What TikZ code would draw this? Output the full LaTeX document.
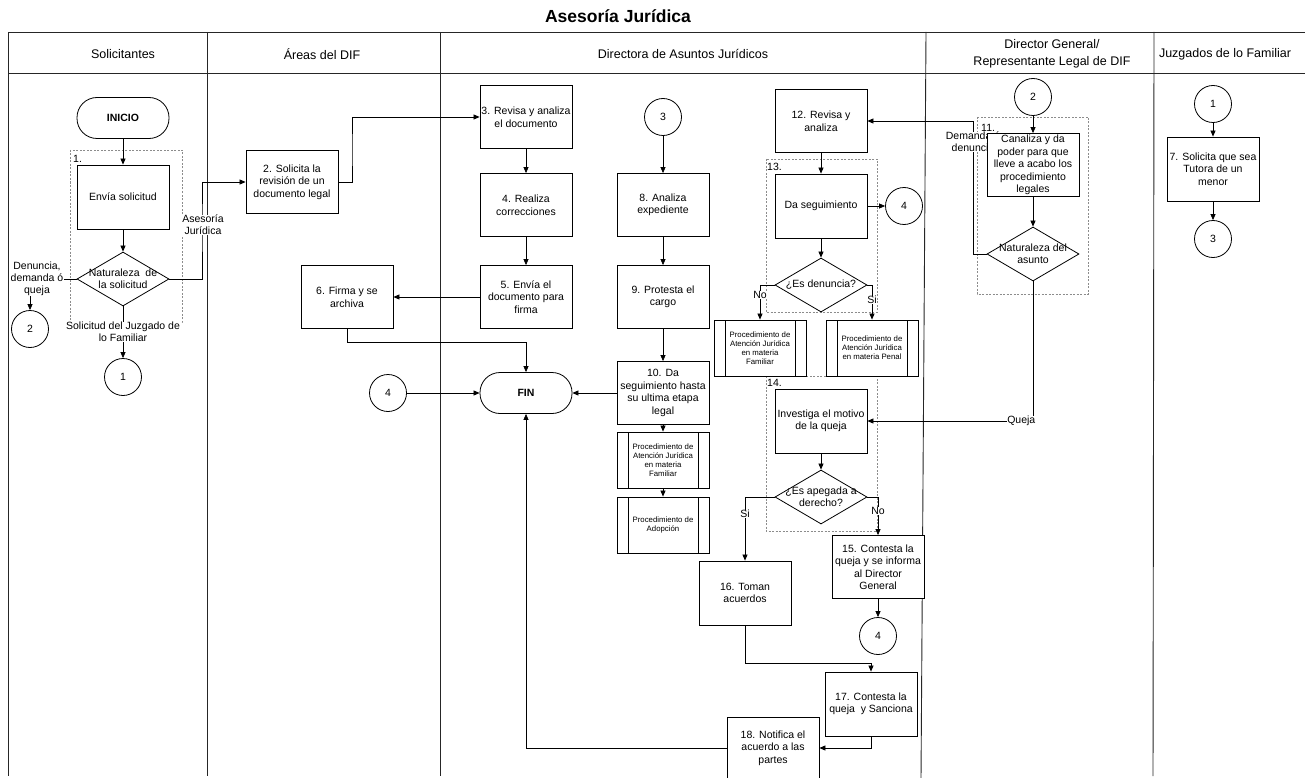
\documentclass[tikz,border=0pt]{standalone}
\usepackage{fontspec}
\setmainfont{Liberation Sans}
\usetikzlibrary{arrows.meta,shapes.geometric}

\begin{document}
\begin{tikzpicture}[x=1pt,y=-1pt,
        lane/.style={line width=0.9pt,draw=black!85},
        head/.style={font=\fontsize{12.5}{17}\selectfont,align=center},
        box/.style={draw,fill=white,line width=0.8pt,minimum width=92pt,minimum height=63pt,inner sep=1pt,align=center,font=\fontsize{10.5}{12.5}\selectfont},
        sub/.style={box,minimum height=56pt,font=\fontsize{7.8}{9}\selectfont,
            path picture={\draw[line width=0.8pt] ([xshift=11pt]path picture bounding box.north west) -- ([xshift=11pt]path picture bounding box.south west)
                ([xshift=-11pt]path picture bounding box.north east) -- ([xshift=-11pt]path picture bounding box.south east);}},
        term/.style={draw,fill=white,line width=0.8pt,rounded corners=20pt,minimum width=92pt,minimum height=41pt,font=\bfseries\fontsize{10.5}{12}\selectfont},
        decis/.style={diamond,draw,fill=white,line width=0.8pt,minimum width=92pt,minimum height=54pt,inner sep=0pt},
        dtext/.style={align=center,inner sep=0pt,font=\fontsize{10.5}{12.3}\selectfont},
        conn/.style={circle,draw,fill=white,line width=0.8pt,minimum size=37pt,inner sep=0pt,font=\fontsize{10.5}{12}\selectfont},
        grp/.style={draw=black!45,line width=0.5pt,dash pattern=on 2pt off 1.5pt},
        num/.style={anchor=west,inner sep=0pt,font=\fontsize{10.5}{12}\selectfont},
        lbl/.style={fill=white,inner sep=0.5pt,align=center,font=\fontsize{10.5}{12}\selectfont},
        arr/.style={line width=0.7pt,-{Triangle[length=6pt,width=5pt]}}]
        \useasboundingbox (0,0) rectangle (1305,778);
        \node[font=\bfseries\fontsize{17.5}{20}\selectfont] (title) at (618,16) {Asesoría Jurídica};
        \draw[lane] (8,32) -- (1305,32);
        \draw[lane] (8,73) -- (1305,73);
        \draw[lane] (8,32) -- (8,776);
        \draw[lane] (207,32) -- (207,776);
        \draw[lane] (440,32) -- (440,776);
        \draw[lane] (926,32) -- (921,778);
        \draw[lane] (1154,32) -- (1153,776);
        \node[head] (hSol) at (123,54) {Solicitantes};
        \node[head] (hAre) at (322,54) {Áreas del DIF};
        \node[head] (hDir) at (683,54) {Directora de Asuntos Jurídicos};
        \node[head] (hGen) at (1052,54) {Director General/\\Representante Legal de DIF};
        \node[head] (hJuz) at (1225,54) {Juzgados de lo Familiar};
        \draw[grp] (70,150) rectangle (182,322);
        \draw[grp] (766,159) rectangle (877,312);
        \draw[grp] (766,376) rectangle (877,531);
        \draw[grp] (977,117) rectangle (1088,294);
        \node[term] (ini) at (123,118) {INICIO};
        \node[num] (n1) at (73,159) {1.};
        \node[box,minimum height=64pt] (b1) at (123,197) {Envía solicitud};
        \node[decis,label={[dtext]center:{Naturaleza\ \ de\\la solicitud}}] (d1) at (123,279) {};
        \node[conn] (c2a) at (30,329) {2};
        \node[conn] (c1a) at (123,377) {1};
        \node[box] (b2) at (292,182) {2. Solicita la\\revisión de un\\documento legal};
        \node[box] (b6) at (347,297) {6. Firma y se\\archiva};
        \node[conn] (c4a) at (388,393) {4};
        \node[box] (b3) at (526,117) {3. Revisa y analiza\\el documento};
        \node[box] (b4) at (526,205) {4. Realiza\\correcciones};
        \node[box] (b5) at (526,297) {5. Envía el\\documento para\\firma};
        \node[term] (fin) at (526,393) {FIN};
        \node[conn] (c3a) at (663,117) {3};
        \node[box] (b8) at (663,205) {8. Analiza\\expediente};
        \node[box] (b9) at (663,297) {9. Protesta el\\cargo};
        \node[box] (b10) at (663,393) {10. Da\\seguimiento hasta\\su ultima etapa\\legal};
        \node[sub] (p1) at (663,460) {Procedimiento de\\Atención Jurídica\\en materia\\Familiar};
        \node[sub] (p2) at (663,525) {Procedimiento de\\Adopción};
        \node[box] (b12) at (821,121) {12. Revisa y\\analiza};
        \node[num] (n13) at (767,167) {13.};
        \node[box,minimum height=64pt] (b13) at (821,206) {Da seguimiento};
        \node[conn] (c4b) at (904,206) {4};
        \node[decis,label={[dtext]center:{¿Es denuncia?}}] (d13) at (821,285) {};
        \node[sub] (pF) at (760,348) {Procedimiento de\\Atención Jurídica\\en materia\\Familiar};
        \node[sub] (pP) at (872,348) {Procedimiento de\\Atención Jurídica\\en materia Penal};
        \node[num] (n14) at (767,383) {14.};
        \node[box,minimum height=64pt] (b14) at (821,421) {Investiga el motivo\\de la queja};
        \node[decis,label={[dtext]center:{¿Es apegada a\\derecho?}}] (d14) at (821,497) {};
        \node[box] (b15) at (878,567) {15. Contesta la\\queja y se informa\\al Director\\General};
        \node[conn] (c4c) at (878,636) {4};
        \node[box,minimum height=64pt] (b16) at (745,593) {16. Toman\\acuerdos};
        \node[box,minimum height=64pt] (b17) at (871,704) {17. Contesta la\\queja\ \ y Sanciona};
        \node[box,minimum height=62pt] (b18) at (773,748) {18. Notifica el\\acuerdo a las\\partes};
        \node[conn] (c2b) at (1033,97) {2};
        \node[decis,label={[dtext]center:{Naturaleza del\\asunto}}] (d11) at (1033,254) {};
        \node[conn] (c1b) at (1213,104) {1};
        \node[box,minimum height=64pt] (b7) at (1213,169) {7. Solicita que sea\\Tutora de un\\menor};
        \node[conn] (c3b) at (1213,239) {3};
        \coordinate (k1) at (202,225);
        \coordinate (k2) at (352,150);
        \coordinate (k3) at (526,342);
        \coordinate (k5) at (871,663);
        \coordinate (k7) at (973,121);
        \draw[arr] (ini) -- (b1);
        \draw[arr] (b1) -- (d1);
        \draw[arr] (d1.west) -| (c2a.north);
        \draw[arr] (d1.south) -- (c1a.north);
        \draw[arr] (d1.east) -| (k1) |- (b2.west);
        \draw[arr] (b2.east) -| (k2) |- (b3.west);
        \draw[arr] (b3) -- (b4);
        \draw[arr] (b4) -- (b5);
        \draw[arr] (b5.west) -- (b6.east);
        \draw[arr] (b6.south) |- (k3) -- (fin.north);
        \draw[arr] (c4a) -- (fin);
        \draw[arr] (b10) -- (fin);
        \draw[arr] (b18.west) -| (fin.south);
        \draw[arr] (c3a) -- (b8);
        \draw[arr] (b8) -- (b9);
        \draw[arr] (b9) -- (b10);
        \draw[arr] (b10) -- (p1);
        \draw[arr] (p1) -- (p2);
        \draw[arr] (b12) -- (b13);
        \draw[arr] (b13) -- (c4b);
        \draw[arr] (b13) -- (d13);
        \draw[arr] (d13.west) -| (pF.north);
        \draw[arr] (d13.east) -| (pP.north);
        \draw[arr] (b14) -- (d14);
        \draw[arr] (d14.west) -| (b16.north);
        \draw[arr] (d14.east) -| (b15.north);
        \draw[arr] (b15) -- (c4c);
        \draw[arr] (b16.south) |- (k5) -- (b17.north);
        \draw[arr] (b17.south) |- (b18.east);
        \draw[arr] (d11.west) -| (k7) -- (b12.east);
        \draw[arr] (d11.south) |- (b14.east);
        \draw[arr] (c1b) -- (b7);
        \draw[arr] (b7) -- (c3b);
        \node[lbl] (lDen) at (37,279) {Denuncia,\\demanda ó\\queja};
        \node[lbl] (lSol) at (123,332) {Solicitud del Juzgado de\\lo Familiar};
        \node[lbl] (lAse) at (203,225) {Asesoría\\Jurídica};
        \node[lbl] (lNo1) at (760,295) {No};
        \node[lbl] (lSi1) at (872,300) {Si};
        \node[lbl] (lSi2) at (745,514) {Si};
        \node[lbl] (lNo2) at (878,511) {No};
        \node[lbl,anchor=east] (lQue) at (1036,421) {Queja};
        \node[lbl] (lDem) at (973,142) {Demanda ó\\denuncia};
        \node[box] (b11) at (1033,165) {Canaliza y da\\poder para que\\lleve a acabo los\\procedimiento\\legales};
        \node[num] (n11) at (981,128) {11.};
        \draw[arr] (c2b) -- (b11);
        \draw[arr] (b11) -- (d11);
\end{tikzpicture}
\end{document}
